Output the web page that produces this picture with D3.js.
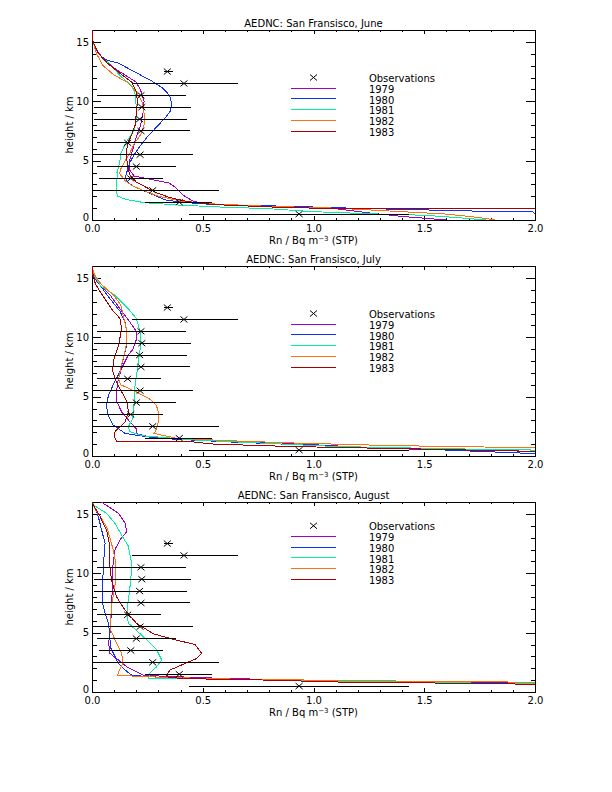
<!DOCTYPE html>
<html>
<head>
<meta charset="utf-8">
<script src="https://cdn.jsdelivr.net/npm/d3@7"></script>
<style>
  html, body { margin: 0; padding: 0; background: #fff; }
  svg { display: block; }
  text { font-family: "DejaVu Sans", sans-serif; font-size: 10px; fill: #000; }
</style>
</head>
<body>
<svg id="chart" width="612" height="792"></svg>
<script>
// ---------------- DATA ----------------
const months = ["June", "July", "August"];
const years = ["1979", "1980", "1981", "1982", "1983"];
const yearColors = ["#a000c8", "#0a32ff", "#00f0a0", "#ff7010", "#a80000"];

// Observations (same in every panel): height (km), value, error-bar low/high
const obsHeight = [12.5, 11.5, 10.5, 9.5, 8.5, 7.5, 6.5, 5.5, 4.5, 3.5, 2.5, 1.5, 0.5];
const obsValue  = [0.34, 0.415, 0.221, 0.225, 0.215, 0.221, 0.161, 0.217, 0.2, 0.175, 0.274, 0.394, 0.935];
const obsLow    = [0.325, 0.18, 0.024, 0.01, 0.01, 0.01, 0.024, 0.003, 0.024, 0.033, 0.003, 0.24, 0.44];
const obsHigh   = [0.365, 0.657, 0.423, 0.446, 0.428, 0.441, 0.31, 0.455, 0.38, 0.319, 0.575, 0.54, 1.43];

// Model profiles: [value (Bq m-3), height (km)]
const june1979 = [[0,16],[0.005,15],[0.02,14.3],[0.05,13.6],[0.1,12.8],[0.15,12.2],[0.2,11.6],[0.22,10.9],[0.235,10],[0.232,9.2],[0.22,8],[0.2,7],[0.185,6],[0.17,5],[0.17,4.2],[0.19,3.7],[0.27,3.4],[0.35,3.1],[0.38,2.7],[0.41,2.1],[0.46,1.55],[0.55,1.3],[0.8,1.15],[1.1,0.95],[1.25,0.6],[1.4,0.3],[1.6,0]];
const june1980 = [[0,16],[0.005,15],[0.03,14],[0.06,13.5],[0.12,13.2],[0.2,12.4],[0.27,11.7],[0.32,11.1],[0.35,10.5],[0.36,9.8],[0.355,9.2],[0.33,8.6],[0.29,7.8],[0.25,7],[0.22,6.3],[0.19,5.5],[0.17,4.8],[0.16,4.2],[0.15,3.6],[0.16,3.2],[0.19,2.8],[0.23,2.5],[0.28,2.1],[0.33,1.7],[0.4,1.5],[0.55,1.3],[0.9,1.15],[1.2,0.98],[1.5,0.85],[1.8,0.72],[1.99,0.7],[2.0,0.5]];
const june1981 = [[0,16],[0.005,15],[0.03,14],[0.07,13.3],[0.13,12.1],[0.18,11.3],[0.195,10.6],[0.2,9.5],[0.2,8.5],[0.19,7.6],[0.17,7],[0.15,6.4],[0.13,5.6],[0.125,4.8],[0.113,4],[0.118,3.7],[0.11,3.3],[0.11,2.5],[0.115,2],[0.16,1.7],[0.24,1.45],[0.4,1.25],[0.57,1.1],[0.8,0.95],[1.0,0.7],[1.3,0.5],[1.5,0.4],[1.65,0.2],[1.78,0]];
const june1982 = [[0,16],[0.005,15],[0.02,14],[0.05,13],[0.1,12.2],[0.16,11.6],[0.2,10.8],[0.225,10],[0.235,9],[0.235,8],[0.22,7.2],[0.19,6.4],[0.17,5.6],[0.15,5],[0.13,4.3],[0.125,3.9],[0.15,3.3],[0.18,2.9],[0.23,2.5],[0.3,2.0],[0.4,1.6],[0.55,1.35],[0.8,1.15],[1.1,1.0],[1.4,0.7],[1.6,0.5],[1.75,0.2],[1.82,0]];
const june1983 = [[0,16],[0.005,15],[0.03,14],[0.07,13.2],[0.13,12.3],[0.18,11.6],[0.2,10.8],[0.205,10],[0.2,9],[0.195,8],[0.18,7.2],[0.16,6.4],[0.155,5.5],[0.16,4.6],[0.17,3.8],[0.2,3.2],[0.25,2.7],[0.29,2.3],[0.35,1.9],[0.43,1.55],[0.55,1.3],[0.8,1.1],[1.0,1.0],[1.5,0.95],[2.0,0.93],[2.1,0.9]];

const july1979 = [[0,16],[0.005,15.2],[0.03,14.5],[0.08,13.6],[0.134,12.2],[0.17,11.3],[0.2,10.5],[0.2,9.8],[0.185,9],[0.164,8.5],[0.134,7.4],[0.119,6.5],[0.11,5.4],[0.112,4.6],[0.134,3.7],[0.17,2.9],[0.2,2.3],[0.2,1.9],[0.26,1.6],[0.45,1.35],[0.8,1.15],[1.1,0.85],[1.4,0.6],[1.65,0.5],[2.0,0.4],[2.1,0.38]];
const july1980 = [[0,16],[0.005,15.3],[0.017,15],[0.04,14.3],[0.066,13.6],[0.1,12.8],[0.126,12.2],[0.15,11.2],[0.157,10.5],[0.157,9.4],[0.146,8.5],[0.126,7.1],[0.096,6],[0.074,5.1],[0.066,4.3],[0.07,3.5],[0.096,2.6],[0.15,1.9],[0.29,1.5],[0.6,1.2],[1.0,0.9],[1.3,0.7],[1.6,0.5],[1.8,0.35],[2.0,0.2],[2.1,0.15]];
const july1981 = [[0,16],[0.01,15.2],[0.04,14.3],[0.1,13.6],[0.164,12.4],[0.2,11.6],[0.217,10.5],[0.222,9.5],[0.21,8.1],[0.2,6.6],[0.19,5.4],[0.19,4.3],[0.185,3.2],[0.165,2.5],[0.17,2.05],[0.23,1.7],[0.46,1.35],[0.75,1.1],[1.1,0.8],[1.5,0.65],[1.8,0.55],[2.0,0.5],[2.1,0.5]];
const july1982 = [[0,16],[0.01,15.3],[0.04,14.5],[0.1,13.5],[0.13,12.7],[0.14,11.9],[0.155,10.7],[0.155,9.4],[0.145,8.5],[0.13,7.4],[0.12,6.5],[0.13,6],[0.2,5.4],[0.26,4.8],[0.29,4.3],[0.3,3.7],[0.3,2.9],[0.29,2.2],[0.28,1.9],[0.38,1.5],[0.6,1.3],[0.9,1.1],[1.3,0.9],[1.6,0.8],[2.0,0.7],[2.1,0.7]];
const july1983 = [[0,16],[0.005,15.3],[0.015,14.5],[0.045,13.6],[0.095,12.2],[0.126,11.6],[0.134,10.7],[0.12,9.35],[0.096,8],[0.094,7.1],[0.11,6.25],[0.134,5.4],[0.157,4.6],[0.165,3.7],[0.15,2.9],[0.104,2.05],[0.1,1.7],[0.11,1.25],[0.45,1.2],[0.55,1.0],[0.9,0.8],[1.3,0.65],[1.6,0.55],[1.8,0.45],[2.0,0.4],[2.1,0.4]];

const aug1979 = [[0.04,16],[0.05,15.9],[0.12,15.05],[0.15,14.2],[0.157,13.5],[0.126,12.8],[0.104,12],[0.095,10.8],[0.093,9.1],[0.089,7.7],[0.085,5.8],[0.081,4.9],[0.075,4.1],[0.081,3.25],[0.119,2.7],[0.157,2.13],[0.232,1.4],[0.5,1.2],[0.8,1.05],[1.1,0.95],[1.6,0.85],[2.0,0.8],[2.1,0.8]];
const aug1980 = [[0.002,16],[0.005,15.9],[0.028,14.8],[0.044,13.6],[0.059,12.5],[0.052,10.8],[0.048,9.1],[0.048,7.5],[0.059,6.6],[0.074,5.8],[0.081,4.7],[0.082,3.8],[0.104,3.0],[0.119,2.4],[0.15,1.85],[0.18,1.4],[0.3,1.25],[0.6,1.1],[1.0,0.95],[1.5,0.85],[1.85,0.8],[2.0,0.75],[2.1,0.75]];
const aug1981 = [[0.002,16],[0.01,15.7],[0.066,15.05],[0.104,14.2],[0.14,13.0],[0.164,12.3],[0.179,10.8],[0.175,9.4],[0.164,7.7],[0.157,6.6],[0.164,5.8],[0.2,5.2],[0.247,4.4],[0.292,3.56],[0.315,2.7],[0.292,2.13],[0.262,1.6],[0.254,1.15],[0.5,1.1],[0.8,1.0],[1.2,0.9],[1.55,0.8],[1.85,0.72],[2.0,0.7],[2.1,0.7]];
const aug1982 = [[0.002,16],[0.01,15.5],[0.036,14.8],[0.066,13.9],[0.081,13],[0.095,12],[0.108,10.8],[0.105,9.1],[0.09,7.5],[0.085,6.3],[0.085,5.2],[0.111,4.1],[0.134,3.25],[0.14,2.4],[0.12,1.7],[0.115,1.4],[0.3,1.25],[0.6,1.1],[1.0,1.0],[1.5,0.9],[1.85,0.85],[2.0,0.8],[2.1,0.8]];
const aug1983 = [[0.002,16],[0.005,15.8],[0.036,14.8],[0.066,13.6],[0.078,12.5],[0.08,10.8],[0.088,9.4],[0.111,8.0],[0.149,6.9],[0.2,5.8],[0.277,4.9],[0.375,4.4],[0.465,4.0],[0.495,3.25],[0.47,2.8],[0.42,2.4],[0.352,1.85],[0.337,1.4],[0.35,1.2],[0.5,1.1],[0.8,1.0],[1.15,0.82],[1.6,0.75],[2.0,0.65],[2.1,0.65]];

const panelSeries = [
  [june1979, june1980, june1981, june1982, june1983],
  [july1979, july1980, july1981, july1982, july1983],
  [aug1979, aug1980, aug1981, aug1982, aug1983]
];
const legendHeight = [12, 12, 14];   // km at which the legend starts

const xMajorTicks = [0, 0.5, 1.0, 1.5, 2.0];
const yMajorTicks = [0, 5, 10, 15];

// ---------------- DRAWING ----------------
const svg = d3.select("#chart");
const left = 92, right = 535, plotH = 190;
const tops = [30, 266, 502];

const x = d3.scaleLinear().domain([0, 2]).range([left, right]);

tops.forEach((top, p) => {
  const bottom = top + plotH;
  const y = d3.scaleLinear().domain([0, 16]).range([bottom, top]);
  const g = svg.append("g");

  // clip
  const clipId = "clip" + p;
  svg.append("clipPath").attr("id", clipId)
    .append("rect").attr("x", left).attr("y", top).attr("width", right - left).attr("height", plotH);

  // title
  g.append("text").attr("x", (left + right) / 2).attr("y", top - 3)
    .attr("text-anchor", "middle").text("AEDNC: San Fransisco, " + months[p]);

  // axes: minor ticks
  const minorX = d3.range(0, 2.0001, 0.1);
  const minorY = d3.range(0, 16.0001, 1);
  g.append("g").attr("transform", `translate(0,${bottom})`)
    .call(d3.axisBottom(x).tickValues(minorX).tickSize(-2).tickFormat(""));
  g.append("g").attr("transform", `translate(0,${top})`)
    .call(d3.axisTop(x).tickValues(minorX).tickSize(-2).tickFormat(""));
  g.append("g").attr("transform", `translate(${left},0)`)
    .call(d3.axisLeft(y).tickValues(minorY).tickSize(-4.5).tickFormat(""));
  g.append("g").attr("transform", `translate(${right},0)`)
    .call(d3.axisRight(y).tickValues(minorY).tickSize(-4.5).tickFormat(""));
  // major ticks
  g.append("g").attr("class", "xax").attr("transform", `translate(0,${bottom})`)
    .call(d3.axisBottom(x).tickValues(xMajorTicks).tickSizeInner(-4).tickSizeOuter(0)
      .tickPadding(5).tickFormat(d3.format(".1f")));
  g.append("g").attr("transform", `translate(0,${top})`)
    .call(d3.axisTop(x).tickValues(xMajorTicks).tickSize(-4).tickFormat(""));
  const yax = g.append("g").attr("class", "yax").attr("transform", `translate(${left},0)`)
    .call(d3.axisLeft(y).tickValues(yMajorTicks).tickSizeInner(-9).tickSizeOuter(0)
      .tickPadding(3).tickFormat(d3.format("d")));
  // lift the "0" label a little so it clears the "0.0" label below it
  yax.selectAll(".tick text").filter(d => d === 0).attr("y", -3);
  g.append("g").attr("transform", `translate(${right},0)`)
    .call(d3.axisRight(y).tickValues(yMajorTicks).tickSize(-9).tickFormat(""));

  g.selectAll(".domain").remove();
  g.selectAll(".tick line").attr("stroke", "#000").attr("shape-rendering", "crispEdges");
  g.selectAll(".tick text").attr("font-family", "DejaVu Sans, sans-serif").attr("font-size", 10).attr("fill", "#000");

  // frame
  g.append("rect").attr("x", left).attr("y", top).attr("width", right - left).attr("height", plotH)
    .attr("fill", "none").attr("stroke", "#000").attr("shape-rendering", "crispEdges");

  // axis titles
  const xt = g.append("text").attr("x", (left + right) / 2).attr("y", bottom + 24).attr("text-anchor", "middle");
  xt.append("tspan").text("Rn / Bq m");
  xt.append("tspan").attr("dy", -3.5).attr("font-size", 7).text("−3");
  xt.append("tspan").attr("dy", 3.5).text(" (STP)");
  g.append("text").attr("transform", `translate(73,${(top + bottom) / 2}) rotate(-90)`)
    .attr("text-anchor", "middle").text("height / km");

  // model curves
  const line = d3.line().x(d => x(d[0])).y(d => y(d[1]));
  const cg = g.append("g").attr("clip-path", `url(#${clipId})`);
  panelSeries[p].forEach((s, i) => {
    cg.append("path").attr("d", line(s)).attr("fill", "none")
      .attr("stroke", yearColors[i]).attr("stroke-width", 1).attr("shape-rendering", "crispEdges");
  });

  // observations: error bars and X markers
  const og = g.append("g").attr("clip-path", `url(#${clipId})`);
  obsHeight.forEach((h, i) => {
    og.append("line").attr("x1", x(obsLow[i])).attr("x2", x(obsHigh[i]))
      .attr("y1", y(h)).attr("y2", y(h)).attr("stroke", "#000").attr("shape-rendering", "crispEdges");
    const cx = x(obsValue[i]), cy = y(h);
    og.append("path").attr("d", `M${cx - 3.5},${cy - 3}L${cx + 3.5},${cy + 3}M${cx - 3.5},${cy + 3}L${cx + 3.5},${cy - 3}`)
      .attr("stroke", "#000").attr("fill", "none");
  });

  // legend
  const ly = y(legendHeight[p]);
  const lx = x(1.0);
  g.append("path").attr("d", `M${lx - 3.5},${ly - 3}L${lx + 3.5},${ly + 3}M${lx - 3.5},${ly + 3}L${lx + 3.5},${ly - 3}`)
    .attr("stroke", "#000").attr("fill", "none");
  g.append("text").attr("x", x(1.25)).attr("y", ly + 4).text("Observations");
  years.forEach((yr, i) => {
    const yy = ly + 10.7 * (i + 1);
    g.append("line").attr("x1", x(0.9)).attr("x2", x(1.1)).attr("y1", yy).attr("y2", yy)
      .attr("stroke", yearColors[i]).attr("shape-rendering", "crispEdges");
    g.append("text").attr("x", x(1.25)).attr("y", yy + 4.7).text(yr);
  });
});
</script>
</body>
</html>
